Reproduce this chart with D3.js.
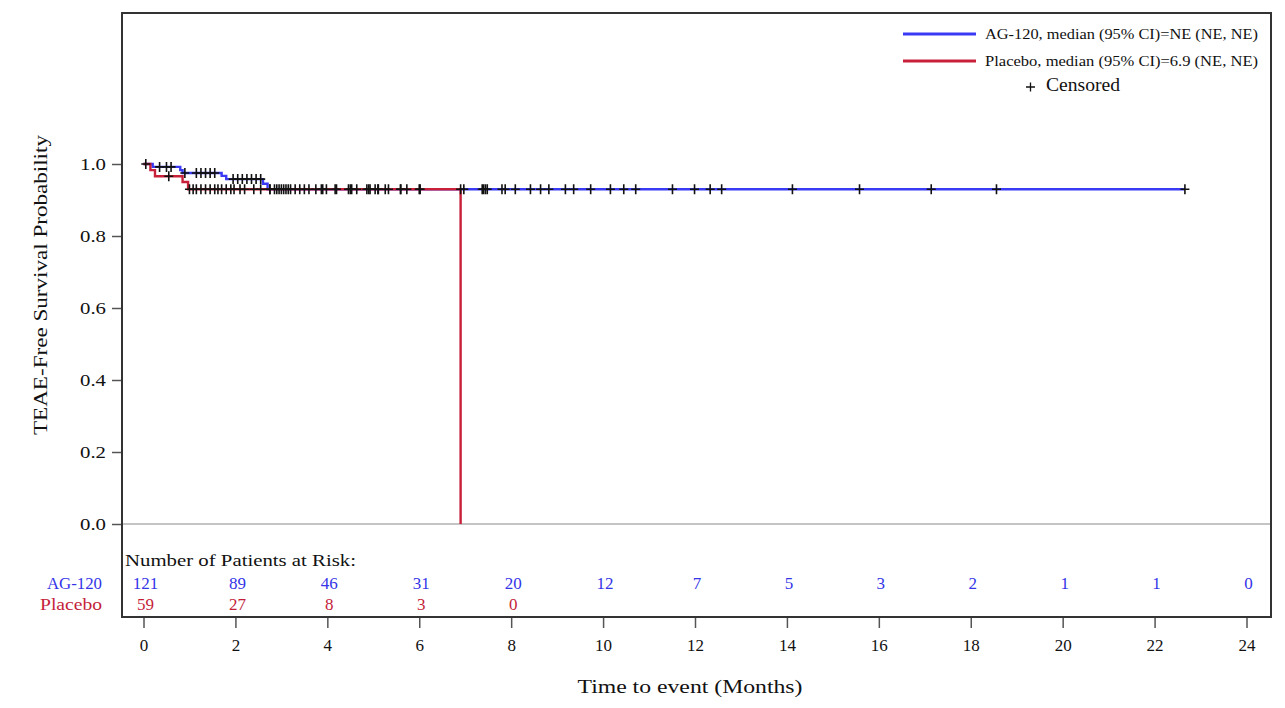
<!DOCTYPE html>
<html lang="en">
<head>
<meta charset="utf-8"/>
<title>TEAE-free survival</title>
<script src="https://d3js.org/d3.v7.min.js"></script>
<style>
  body { margin: 0; background: #fff; }
  text { font-family: "Liberation Serif", "Times New Roman", serif; }
</style>
</head>
<body>
<svg id="chart" width="1285" height="708"></svg>
<script>
// step curves: [time (months), survival]
const agSteps = [[0, 1], [0.2, 0.992], [0.8, 0.983], [0.85, 0.975], [1.7, 0.967], [1.8, 0.958], [2.6, 0.945], [2.7, 0.93], [22.66, 0.93]];
const pbSteps = [[0, 1], [0.15, 0.983], [0.25, 0.966], [0.85, 0.95], [0.97, 0.93], [6.9, 0.93], [6.9, 0]];

// censored times
const agCensored = [0.05, 0.35, 0.5, 0.6, 0.9, 1.15, 1.25, 1.35, 1.45, 1.55, 1.95, 2.05, 2.15, 2.25, 2.35, 2.45, 2.55,
  2.75, 2.85, 2.95, 3.05, 3.15, 3.4, 3.6, 3.87, 3.98, 4.17, 4.46, 4.53, 4.64, 4.86, 4.93, 5.04, 5.11, 5.26, 5.33,
  5.59, 5.73, 6.02, 6.97, 7.37, 7.40, 7.44, 7.48, 7.80, 7.87, 8.09, 8.42, 8.64, 8.82, 9.18, 9.36, 9.73, 10.16,
  10.45, 10.71, 11.51, 11.99, 12.33, 12.58, 14.12, 15.58, 17.14, 18.56, 22.66];
const pbCensored = [0.55, 1.0, 1.08, 1.15, 1.25, 1.35, 1.45, 1.55, 1.62, 1.7, 1.8, 1.9, 1.97, 2.1, 2.2, 2.4, 2.55,
  2.75, 2.9, 3.0, 3.1, 3.2, 3.3, 3.5, 3.75, 3.9, 4.2, 4.5, 4.9, 5.1, 5.6, 6.0, 6.9];

// number at risk
const riskTimes = [0, 2, 4, 6, 8, 10, 12, 14, 16, 18, 20, 22, 24];
const agRisk = [121, 89, 46, 31, 20, 12, 7, 5, 3, 2, 1, 1, 0];
const pbRisk = [59, 27, 8, 3, 0];

const xTicks = [0, 2, 4, 6, 8, 10, 12, 14, 16, 18, 20, 22, 24];
const yTicks = [0, 0.2, 0.4, 0.6, 0.8, 1.0];

const legendLabels = ["AG-120, median (95% CI)=NE (NE, NE)", "Placebo, median (95% CI)=6.9 (NE, NE)"];

const blue = "#3a3af5", red = "#c8203a";
const blueText = "#3434e8", redText = "#c41e3a";

const svg = d3.select("#chart");
const box = {left: 122, top: 13, right: 1271, bottom: 617};

const x = d3.scaleLinear().domain([0, 24]).range([143.5, 1246.5]);
const y = d3.scaleLinear().domain([0, 1]).range([524, 164]);

// the original font is wider than Times, so stretch longer labels to its widths
function stretch(sel, w) {
  sel.attr("textLength", w).attr("lengthAdjust", "spacingAndGlyphs");
  return sel;
}

// zero reference line
svg.append("line")
  .attr("x1", box.left).attr("x2", box.right)
  .attr("y1", y(0)).attr("y2", y(0))
  .attr("stroke", "#c4c4c4").attr("stroke-width", 2);

// curves
const line = d3.line().x(d => x(d[0])).y(d => y(d[1])).curve(d3.curveStepAfter);
svg.append("path").datum(agSteps).attr("d", line)
  .attr("fill", "none").attr("stroke", blue).attr("stroke-width", 2.4);
svg.append("path").datum(pbSteps).attr("d", line)
  .attr("fill", "none").attr("stroke", red).attr("stroke-width", 2.4);

// survival lookup for censor marks
function survAt(steps, t) {
  let s = steps[0][1];
  for (const [tt, v] of steps) { if (tt <= t && v > 0) s = v; }
  return s;
}

function crosses(times, steps) {
  const g = svg.append("g").attr("stroke", "#111").attr("stroke-width", 1.6);
  g.selectAll("path").data(times).enter().append("path")
    .attr("d", t => {
      const cx = x(t), cy = y(survAt(steps, t));
      return `M${cx - 4.5},${cy}H${cx + 4.5}M${cx},${cy - 5}V${cy + 5}`;
    });
}
crosses(pbCensored, pbSteps);
crosses(agCensored, agSteps);

// frame
svg.append("rect")
  .attr("x", box.left).attr("y", box.top)
  .attr("width", box.right - box.left).attr("height", box.bottom - box.top)
  .attr("fill", "none").attr("stroke", "#333").attr("stroke-width", 2);

// y axis
const yAxis = svg.append("g").attr("transform", `translate(${box.left - 1},0)`)
  .call(d3.axisLeft(y).tickValues(yTicks).tickFormat(d3.format(".1f")).tickSize(9).tickPadding(6));
yAxis.select(".domain").remove();
yAxis.selectAll(".tick line").attr("stroke", "#555").attr("stroke-width", 1.5);
yAxis.selectAll(".tick text").attr("font-size", 17).attr("fill", "#111")
  .style("font-family", '"Liberation Serif", serif')
  .attr("textLength", 26).attr("lengthAdjust", "spacingAndGlyphs");

// x axis
const xAxis = svg.append("g").attr("transform", `translate(0,${box.bottom + 1})`)
  .call(d3.axisBottom(x).tickValues(xTicks).tickSize(10).tickPadding(11));
xAxis.select(".domain").remove();
xAxis.selectAll(".tick line").attr("stroke", "#555").attr("stroke-width", 1.5);
xAxis.selectAll(".tick text").attr("font-size", 17).attr("fill", "#111")
  .style("font-family", '"Liberation Serif", serif');

// axis titles
stretch(svg.append("text").attr("x", 690).attr("y", 693)
  .attr("text-anchor", "middle").attr("font-size", 19).attr("fill", "#111")
  .text("Time to event (Months)"), 225);
stretch(svg.append("text").attr("transform", "translate(47,285)rotate(-90)")
  .attr("text-anchor", "middle").attr("font-size", 19).attr("fill", "#111")
  .text("TEAE-Free Survival Probability"), 300);

// risk table
stretch(svg.append("text").attr("x", 125).attr("y", 566).attr("font-size", 16.5).attr("fill", "#111")
  .text("Number of Patients at Risk:"), 231);
stretch(svg.append("text").attr("x", 102).attr("y", 589).attr("text-anchor", "end")
  .attr("font-size", 16).attr("fill", blueText).text("AG-120"), 55);
stretch(svg.append("text").attr("x", 102).attr("y", 610).attr("text-anchor", "end")
  .attr("font-size", 16).attr("fill", redText).text("Placebo"), 62);
svg.append("g").selectAll("text").data(agRisk).enter().append("text")
  .attr("x", (d, i) => x(riskTimes[i]) + 2).attr("y", 589).attr("text-anchor", "middle")
  .attr("font-size", 17).attr("fill", blueText).text(d => d);
svg.append("g").selectAll("text").data(pbRisk).enter().append("text")
  .attr("x", (d, i) => x(riskTimes[i]) + 2).attr("y", 610).attr("text-anchor", "middle")
  .attr("font-size", 17).attr("fill", redText).text(d => d);

// legend
const legend = svg.append("g");
[blue, red].forEach((c, i) => {
  const ly = 34 + i * 27;
  legend.append("line").attr("x1", 903).attr("x2", 976).attr("y1", ly).attr("y2", ly)
    .attr("stroke", c).attr("stroke-width", 3);
  stretch(legend.append("text").attr("x", 985).attr("y", ly + 5).attr("font-size", 15).attr("fill", "#111")
    .text(legendLabels[i]), 273);
});
legend.append("path").attr("d", "M1026,87H1035M1030.5,82.5V91.5").attr("stroke", "#111").attr("stroke-width", 1.3);
stretch(legend.append("text").attr("x", 1046).attr("y", 91).attr("font-size", 18).attr("fill", "#111").text("Censored"), 74);
</script>
</body>
</html>
